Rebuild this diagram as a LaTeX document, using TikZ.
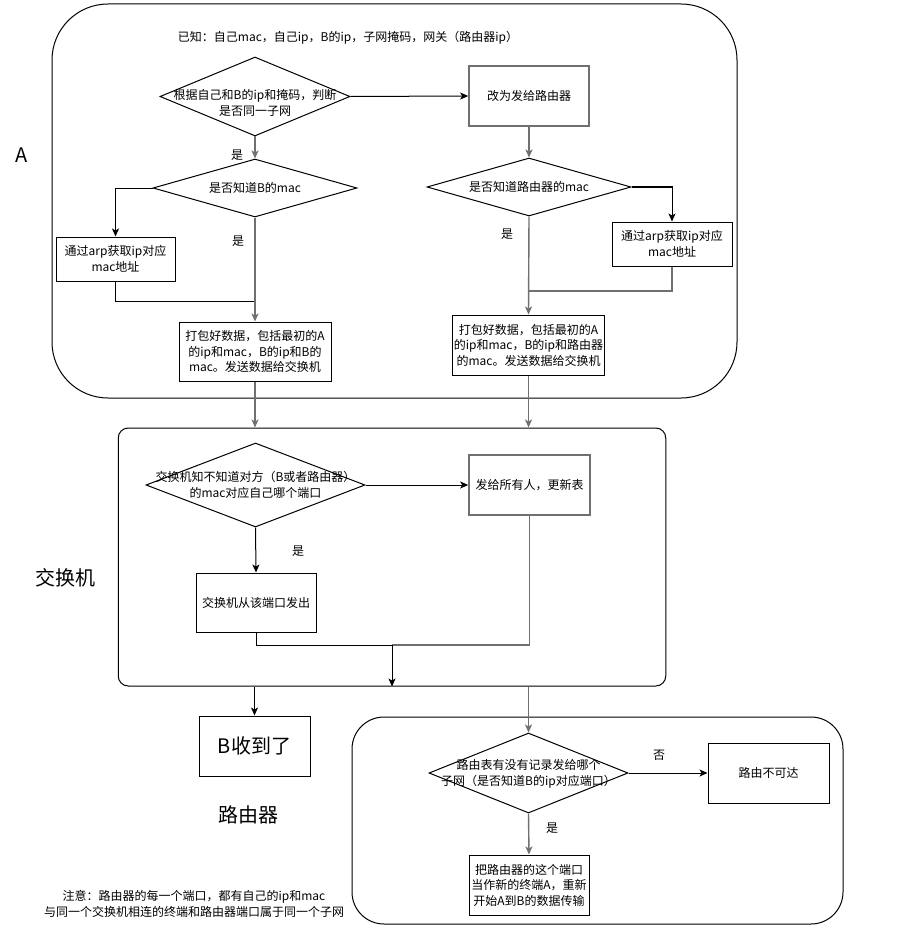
\documentclass[tikz,border=0pt]{standalone}
\usepackage{fontspec}
\setmainfont{Noto Sans CJK SC}
\usetikzlibrary{arrows.meta,positioning,shapes.geometric,calc}
\definecolor{edgegray}{HTML}{707070}
\newcommand{\smallcn}{\fontsize{12}{15.5}\selectfont}
\newcommand{\bigcn}{\fontsize{20}{24}\selectfont}
\tikzset{
container/.style={draw,line width=1pt,inner sep=0pt},
process/.style={draw,line width=1pt,minimum width=120,minimum height=60,align=center,inner sep=1pt,font=\smallcn},
greybox/.style={process,draw=edgegray,line width=1.6pt},
decision/.style={draw,diamond,line width=1pt,inner sep=0pt},
dtext/.style={align=center,font=\smallcn,inner sep=0pt},
note/.style={align=center,font=\smallcn,inner sep=0pt},
bigtext/.style={font=\bigcn,inner sep=0pt},
flow/.style={-{Stealth[length=8pt,width=7pt,inset=2pt]},line width=1pt},
greyflow/.style={flow,draw=edgegray,line width=1.4pt},
link/.style={line width=1pt},
greylink/.style={draw=edgegray,line width=1.4pt}
}

\begin{document}
\begin{tikzpicture}[x=1pt,y=-1pt]
\useasboundingbox (0,0) rectangle (903,928);
% host A
\node[container,rounded corners=56,minimum width=685,minimum height=394](boxA) at (394.5,201){};
\node[bigtext](labA) at (22,155){A};
\node[note](known) at (348,38){已知：自己mac，自己ip，B的ip，子网掩码，网关（路由器ip）};
\node[decision,minimum width=190,minimum height=79](d1) at (255,96.5){};
\node[dtext](d1t) at (255,103){根据自己和B的ip和掩码，判断\\是否同一子网};
\node[greybox](toRt) at (529,96){改为发给路由器};
\node[decision,minimum width=204,minimum height=58](d2) at (255,188){};
\node[dtext](d2t) at (d2){是否知道B的mac};
\node[process,minimum width=119,minimum height=44](arpL) at (115.5,259){通过arp获取ip对应\\mac地址};
\node[process,minimum width=152,minimum height=59](packL) at (255,351.5){打包好数据，包括最初的A\\的ip和mac，B的ip和B的\\mac。发送数据给交换机};
\node[decision,minimum width=204,minimum height=58](d3) at (529,187){};
\node[dtext](d3t) at (d3){是否知道路由器的mac};
\node[process,minimum width=120,minimum height=44](arpR) at (672,244){通过arp获取ip对应\\mac地址};
\node[process,minimum width=151,minimum height=60](packR) at (528.5,345){打包好数据，包括最初的A\\的ip和mac，B的ip和路由器\\的mac。发送数据给交换机};
\node[note](yes1) at (237,155){是};
\node[note](yes2) at (238,241){是};
\node[note](yes3) at (507,234){是};
\coordinate (mL) at (255,301);
\coordinate (mR) at (529,291);
\draw[flow](d1.east)--(toRt.west);
\draw[greyflow](d1.south)--(d2.north);
\draw[flow](d2.west)-|(arpL.north);
\draw[link](arpL.south)|-(mL);
\draw[greyflow](d2.south)--(packL.north);
\draw[greyflow](toRt.south)--(d3.north);
\draw[flow](d3.east)-|(arpR.north);
\draw[greylink](arpR.south)|-(mR);
\draw[greyflow](d3.south)--(packR.north);
% switch
\node[container,rounded corners=10,minimum width=547.5,minimum height=258](sw) at (392,557){};
\node[bigtext](labSw) at (65,578){交换机};
\node[decision,minimum width=219,minimum height=84](d4) at (255.5,485){};
\node[dtext](d4t) at (d4){交换机知不知道对方（B或者路由器）\\的mac对应自己哪个端口};
\node[greybox,minimum width=121](bcast) at (529.5,485){发给所有人，更新表};
\node[process,minimum height=59](sendP) at (256,602.5){交换机从该端口发出};
\node[note](yes4) at (298,551){是};
\coordinate (mS) at (392,645);
\draw[greyflow](packL.south)--(packL.south|-sw.north);
\draw[greyflow](packR.south)--(packR.south|-sw.north);
\draw[flow](d4.east)--(bcast.west);
\draw[flow](d4.south)--(sendP.north);
\draw[link](sendP.south)|-(mS);
\draw[greylink](bcast.south)|-(mS);
\draw[flow](mS)--(mS|-sw.south);
% B and router
\node[process,minimum width=111,font=\bigcn](recv) at (254.5,746){B收到了};
\draw[flow](recv.north|-sw.south)--(recv.north);
\node[bigtext](labRt) at (248,815){路由器};
\node[note](remark) at (194,904){注意：路由器的每一个端口，都有自己的ip和mac\\与同一个交换机相连的终端和路由器端口属于同一个子网};
\node[container,rounded corners=32,minimum width=491,minimum height=207](rt) at (597.5,820.5){};
\node[decision,minimum width=199,minimum height=80](d5) at (528.5,773){};
\node[dtext](d5t) at (528.5,774){路由表有没有记录发给哪个\\子网（是否知道B的ip对应端口）};
\node[process,minimum width=121](unreach) at (768.5,773){路由不可达};
\node[process](newA) at (529,885){把路由器的这个端口\\当作新的终端A，重新\\开始A到B的数据传输};
\node[note](no5) at (659,755){否};
\node[note](yes5) at (552,828){是};
\draw[greyflow](d5.north|-sw.south)--(d5.north);
\draw[flow](d5.east)--(unreach.west);
\draw[greyflow](d5.south)--(newA.north);
\end{tikzpicture}
\end{document}
